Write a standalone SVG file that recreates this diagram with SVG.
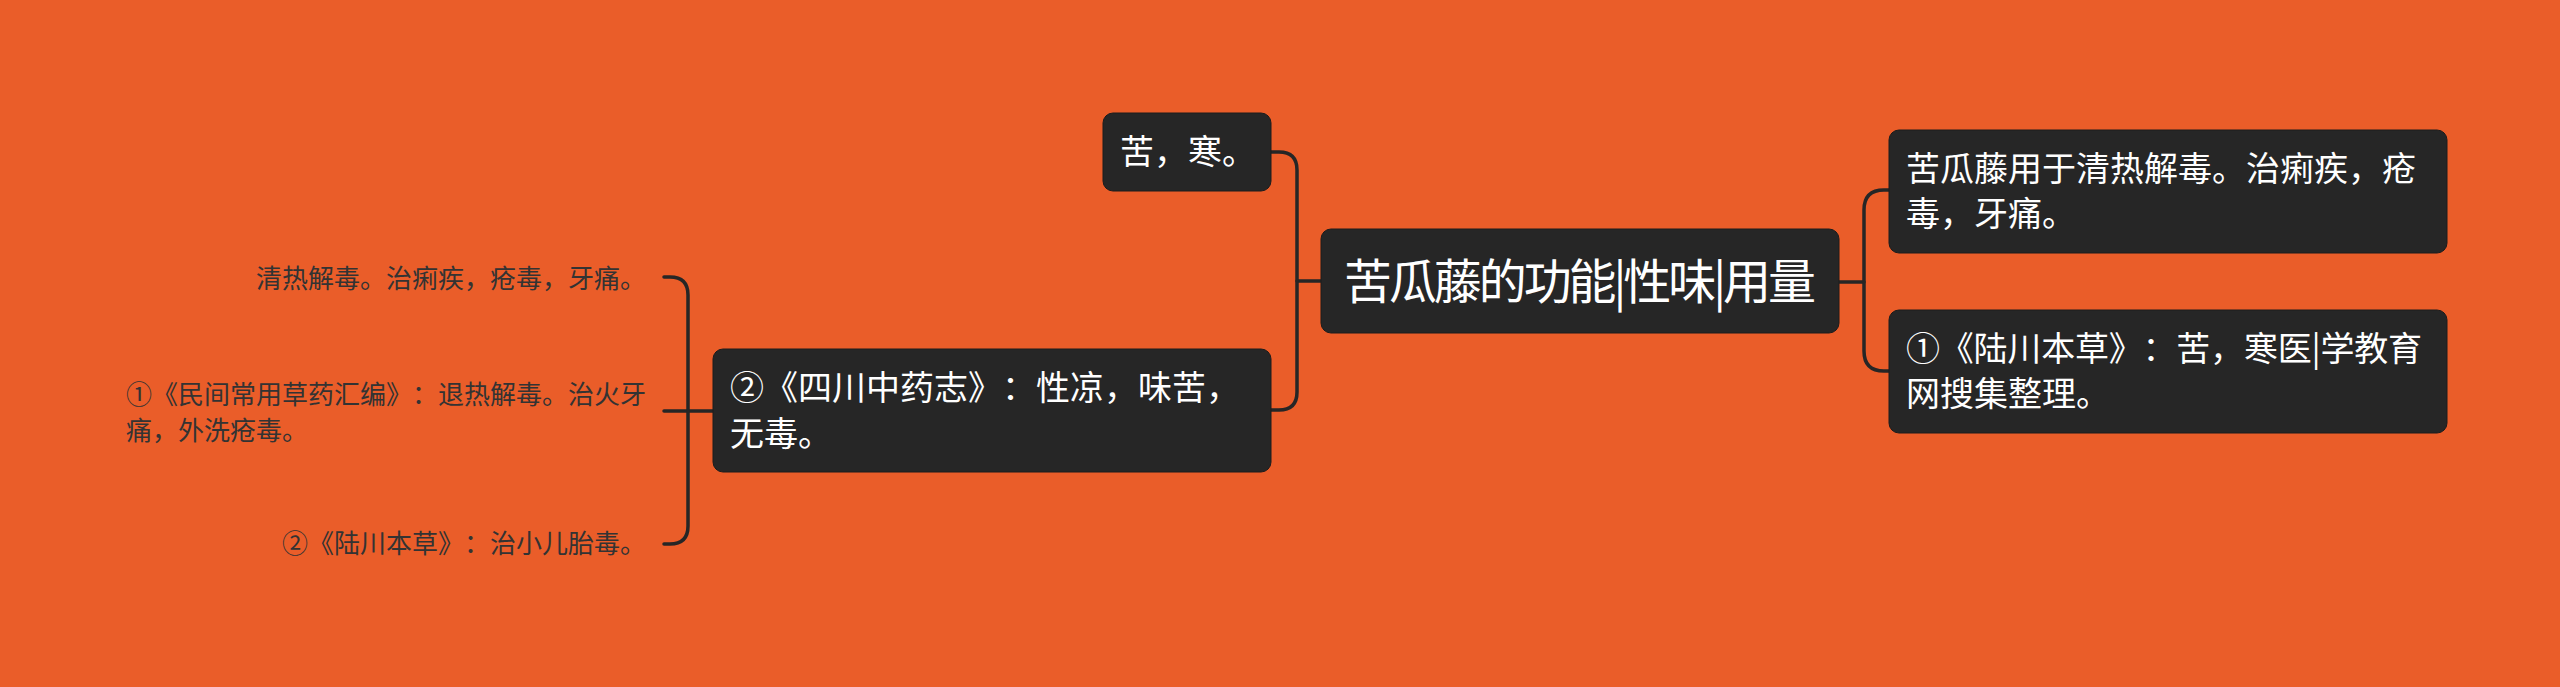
<svg xmlns="http://www.w3.org/2000/svg" width="2560" height="687" viewBox="0 0 2560 687">
<style>
text{text-spacing-trim:space-all}
.bg{fill:#EA5D29}
.node{fill:#262626;stroke:#1c1c1c;stroke-width:1}
.t{font-family:"Noto Sans CJK SC","Noto Sans",sans-serif;fill:#ffffff}
.root{font-size:48px}
.n{font-size:34px}
.leaf{font-family:"Noto Sans CJK SC","Noto Sans",sans-serif;font-size:26px;fill:#333333}
.c{fill:none;stroke:#262626;stroke-width:3.5;stroke-linecap:round;stroke-linejoin:round}
</style>
<rect class="bg" x="0" y="0" width="2560" height="687"/>
<g id="connectors">
<path class="c" d="M1839 282 H1864"/>
<path class="c" d="M1889 190 H1884 Q1864 190 1864 210 V351 Q1864 371 1884 371 H1889"/>
<path class="c" d="M1321 281 H1297"/>
<path class="c" d="M1271 152 H1279 Q1297 152 1297 170 V392 Q1297 410 1279 410 H1271"/>
<path class="c" d="M713 411 H664"/>
<path class="c" d="M664 277 H670 Q688 277 688 295 V526 Q688 544 670 544 H664"/>
</g>
<g id="root">
<rect class="node" x="1321" y="229" width="518" height="104" rx="10"/>
<text class="t root" x="1580" y="299" text-anchor="middle" textLength="472" lengthAdjust="spacing">苦瓜藤的功能|性味|用量</text>
</g>
<g id="r1">
<rect class="node" x="1889" y="130" width="558" height="123" rx="10"/>
<text class="t n" x="1906" y="181">苦瓜藤用于清热解毒。治痢疾，疮</text>
<text class="t n" x="1906" y="226">毒，牙痛。</text>
</g>
<g id="r2">
<rect class="node" x="1889" y="310" width="558" height="123" rx="10"/>
<text class="t n" x="1906" y="361" textLength="516" lengthAdjust="spacing">①《陆川本草》：苦，寒医|学教育</text>
<text class="t n" x="1906" y="406">网搜集整理。</text>
</g>
<g id="l1">
<rect class="node" x="1103" y="113" width="168" height="78" rx="10"/>
<text class="t n" x="1120" y="164">苦，寒。</text>
</g>
<g id="l2">
<rect class="node" x="713" y="349" width="558" height="123" rx="10"/>
<text class="t n" x="730" y="400" textLength="510" lengthAdjust="spacing">②《四川中药志》：性凉，味苦，</text>
<text class="t n" x="730" y="446">无毒。</text>
</g>
<g id="leaf1">
<text class="leaf" x="646" y="288" text-anchor="end">清热解毒。治痢疾，疮毒，牙痛。</text>
</g>
<g id="leaf2">
<text class="leaf" x="126" y="404" textLength="520" lengthAdjust="spacing">①《民间常用草药汇编》：退热解毒。治火牙</text>
<text class="leaf" x="126" y="440">痛，外洗疮毒。</text>
</g>
<g id="leaf3">
<text class="leaf" x="646" y="553" text-anchor="end" textLength="364" lengthAdjust="spacing">②《陆川本草》：治小儿胎毒。</text>
</g>
</svg>
